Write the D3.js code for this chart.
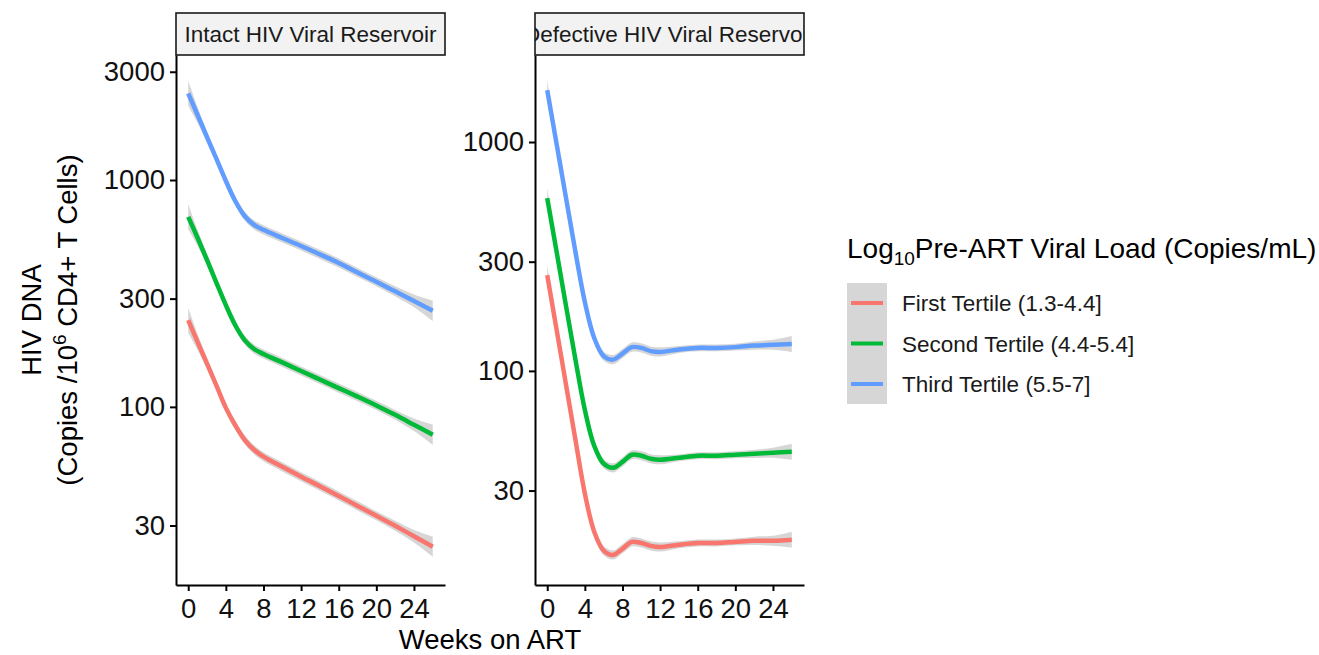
<!DOCTYPE html>
<html>
<head>
<meta charset="utf-8">
<title>HIV DNA by pre-ART viral load</title>
<script src="https://cdn.jsdelivr.net/npm/d3@7/dist/d3.min.js"></script>
<style>
html, body {
  margin: 0;
  padding: 0;
  background: #fff;
  overflow: hidden;
}
svg {
  display: block;
  font-family: 'Liberation Sans', Arial, Helvetica, sans-serif;
}
</style>
</head>
<body>
<svg id="chart" width="1319" height="655"></svg>

<script>
var weeksIntact    = [0, 1, 2, 3, 4, 5, 6, 7, 8, 10, 12, 14, 16, 18, 20, 22, 24, 26];
var weeksDefective = [0, 1, 2, 3, 4, 5, 6, 7, 8, 9, 10, 11, 12, 14, 16, 18, 20, 22, 24, 26];

// intact reservoir, copies / 10^6 CD4+ T cells
var intactFirst  = [241, 193, 155, 124, 99, 83, 71.6, 64.7, 60.3, 54.4, 49.2, 44.7, 40.5, 36.6, 33.1, 29.9, 26.9, 24.2];
var intactSecond = [688, 555, 444, 352, 281, 229, 197, 180, 171, 157, 144, 132, 121, 111, 101.5, 92.2, 83.4, 75.4];
var intactThird  = [2410, 1932, 1546, 1240, 990, 808, 694, 634, 603, 555, 512, 470, 431, 391, 356, 323, 293, 265];

// defective reservoir
var defectiveFirst  = [262, 151, 86.9, 50, 29.1, 19.8, 16.4, 15.7, 16.7, 17.9, 17.7, 17.2, 17, 17.4, 17.7, 17.7, 17.9, 18.1, 18.1, 18.3];
var defectiveSecond = [569, 331, 192, 112, 67.6, 47, 39.3, 37.7, 40, 43, 42.6, 41.3, 40.9, 41.7, 42.6, 42.6, 43, 43.4, 43.9, 44.3];
var defectiveThird  = [1687, 980, 569, 331, 200, 139, 116, 112, 119, 127, 126, 122, 121, 124, 126, 126, 127, 129, 130, 131];

// half width of the grey confidence band, in log10 units
var ciIntact    = [0.055, 0.035, 0.025, 0.02, 0.02, 0.02, 0.02, 0.02, 0.02, 0.02, 0.02, 0.02, 0.02, 0.02, 0.02, 0.022, 0.028, 0.045];
var ciDefective = [0.045, 0.025, 0.02, 0.02, 0.02, 0.02, 0.02, 0.02, 0.02, 0.02, 0.02, 0.02, 0.02, 0.015, 0.015, 0.015, 0.015, 0.018, 0.022, 0.035];

var tertiles = ['First Tertile (1.3-4.4]', 'Second Tertile (4.4-5.4]', 'Third Tertile (5.5-7]'];
var colors = ['#F8766D', '#00BA38', '#619CFF'];
var xTicks = [0, 4, 8, 12, 16, 20, 24];
var yTicksIntact = [30, 100, 300, 1000, 3000];
var yTicksDefective = [30, 100, 300, 1000];

var panels = [
  { title: 'Intact HIV Viral Reservoir', weeks: weeksIntact,
    series: [intactFirst, intactSecond, intactThird], ci: ciIntact,
    yDomain: [16.4, 3556], yTicks: yTicksIntact, left: 176 },
  { title: 'Defective HIV Viral Reservoir', weeks: weeksDefective,
    series: [defectiveFirst, defectiveSecond, defectiveThird], ci: ciDefective,
    yDomain: [11.6, 2400], yTicks: yTicksDefective, left: 535 }
];

// NB: "top" is taken by window.top, so use other names
var panelW = 269, panelTop = 55, panelBottom = 585, stripTop = 13;

var svg = d3.select('#chart');

var styleAxis = function(g){
  g.select('.domain').attr('stroke', '#000').attr('stroke-width', 2);
  g.selectAll('.tick line').attr('stroke', '#000').attr('stroke-width', 2);
  g.selectAll('.tick text').attr('fill', '#111').attr('font-size', 27.5)
    .attr('font-family', "'Liberation Sans', Arial, Helvetica, sans-serif");
};

var smooth = d3.curveCatmullRom.alpha(0.5);

panels.forEach(function(p, i){
  var x = d3.scaleLinear().domain([-1.3, 27.3]).range([p.left, p.left + panelW]);
  var y = d3.scaleLog().domain(p.yDomain).range([panelBottom, panelTop]);

  var g = svg.append('g');

  // ribbons first, lines on top (like geom_smooth)
  p.series.forEach(function(vals, k){
    var pts = p.weeks.map(function(w, j){ return { w: w, v: vals[j], c: p.ci[j] }; });
    var area = d3.area()
      .x(function(d){ return x(d.w); })
      .y0(function(d){ return y(d.v * Math.pow(10, -d.c)); })
      .y1(function(d){ return y(d.v * Math.pow(10, d.c)); })
      .curve(smooth);
    g.append('path').datum(pts)
      .attr('d', area)
      .attr('fill', '#999999')
      .attr('fill-opacity', 0.4);
  });
  p.series.forEach(function(vals, k){
    var pts = p.weeks.map(function(w, j){ return { w: w, v: vals[j] }; });
    var line = d3.line()
      .x(function(d){ return x(d.w); })
      .y(function(d){ return y(d.v); })
      .curve(smooth);
    g.append('path').datum(pts)
      .attr('d', line)
      .attr('fill', 'none')
      .attr('stroke', colors[k])
      .attr('stroke-width', 4.5)
      .attr('stroke-linejoin', 'round');
  });

  // axes
  var ya = g.append('g').attr('transform', 'translate(' + p.left + ',0)')
    .call(d3.axisLeft(y).tickValues(p.yTicks).tickFormat(d3.format('d'))
      .tickSize(6).tickSizeOuter(0).tickPadding(5));
  styleAxis(ya);
  var xa = g.append('g').attr('transform', 'translate(0,' + panelBottom + ')')
    .call(d3.axisBottom(x).tickValues(xTicks).tickFormat(d3.format('d'))
      .tickSize(6).tickSizeOuter(0).tickPadding(7));
  styleAxis(xa);

  // facet strip
  var clipId = 'strip' + i;
  svg.append('clipPath').attr('id', clipId)
    .append('rect').attr('x', p.left).attr('y', stripTop).attr('width', panelW).attr('height', panelTop - stripTop);
  svg.append('rect')
    .attr('x', p.left).attr('y', stripTop).attr('width', panelW).attr('height', panelTop - stripTop)
    .attr('fill', '#f2f2f2').attr('stroke', '#1a1a1a').attr('stroke-width', 1.6);
  svg.append('text')
    .attr('clip-path', 'url(#' + clipId + ')')
    .attr('x', p.left + panelW / 2).attr('y', 41.5)
    .attr('text-anchor', 'middle')
    .attr('font-size', 22.5).attr('fill', '#1a1a1a')
    .text(p.title);
});

// x axis title
svg.append('text')
  .attr('x', 490).attr('y', 649)
  .attr('text-anchor', 'middle')
  .attr('font-size', 27.5).attr('fill', '#000')
  .text('Weeks on ART');

// y axis title, two lines
svg.append('text')
  .attr('transform', 'translate(41,320) rotate(-90)')
  .attr('text-anchor', 'middle')
  .attr('font-size', 27.5).attr('fill', '#000')
  .text('HIV DNA');
var yt = svg.append('text')
  .attr('transform', 'translate(77,320) rotate(-90)')
  .attr('text-anchor', 'middle')
  .attr('font-size', 27.5).attr('fill', '#000');
yt.append('tspan').text('(Copies /10');
yt.append('tspan').attr('font-size', 19).attr('dy', -11).text('6');
yt.append('tspan').attr('dy', 11).text(' CD4+ T Cells)');

// legend
var lg = svg.append('g');
var lt = lg.append('text')
  .attr('x', 847).attr('y', 258)
  .attr('font-size', 28).attr('fill', '#000');
lt.append('tspan').text('Log');
lt.append('tspan').attr('font-size', 19).attr('dy', 7).text('10');
lt.append('tspan').attr('dy', -7).text('Pre-ART Viral Load (Copies/mL)');

lg.append('rect')
  .attr('x', 847).attr('y', 283).attr('width', 40).attr('height', 121)
  .attr('fill', '#999999').attr('fill-opacity', 0.4);

var keyY = d3.scalePoint().domain(tertiles).range([303, 384]);
var items = lg.selectAll('.item').data(tertiles).enter().append('g').attr('class', 'item');
items.append('line')
  .attr('x1', 851).attr('x2', 883)
  .attr('y1', function(d){ return keyY(d); })
  .attr('y2', function(d){ return keyY(d); })
  .attr('stroke', function(d, i){ return colors[i]; })
  .attr('stroke-width', 4);
items.append('text')
  .attr('x', 902)
  .attr('y', function(d){ return keyY(d) + 8; })
  .attr('font-size', 22.5).attr('fill', '#1a1a1a')
  .text(function(d){ return d; });
</script>
</body>
</html>
